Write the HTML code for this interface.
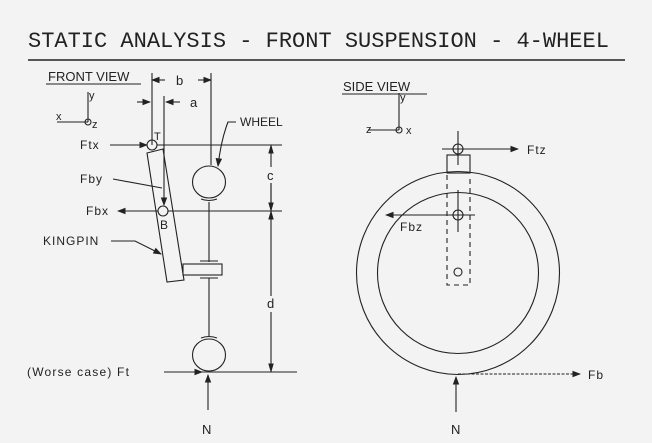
<!DOCTYPE html>
<html><head><meta charset="utf-8"><style>
html,body{margin:0;padding:0;background:#f3f3f3}
svg{display:block}
text{font-family:"Liberation Sans",sans-serif;fill:#222}
</style></head><body>
<svg width="652" height="443" viewBox="0 0 652 443" stroke="#222" fill="none" stroke-width="1.1">
<defs><marker id="ah" markerWidth="8" markerHeight="6" refX="7" refY="3" orient="auto"><path d="M0,0 L8,3 L0,6 Z" fill="#222" stroke="none"/></marker></defs>
<rect width="652" height="443" fill="#f3f3f3" stroke="none"/>
<text x="28" y="47" style="font-family:'Liberation Mono',monospace;font-size:22px" stroke="none">STATIC ANALYSIS - FRONT SUSPENSION - 4-WHEEL</text>
<line x1="28" y1="60" x2="625" y2="60" stroke-width="1.6"/>

<g>
<text x="48" y="81" font-size="13" stroke="none">FRONT VIEW</text>
<line x1="46" y1="84" x2="141" y2="84"/>
<line x1="88" y1="92" x2="88" y2="122"/><line x1="57" y1="122" x2="88" y2="122"/>
<circle cx="88" cy="122" r="3"/>
<text x="89" y="99" font-size="11" stroke="none">y</text><text x="56" y="120" font-size="11" stroke="none">x</text><text x="92" y="128" font-size="11" stroke="none">z</text>
<line x1="152" y1="73" x2="152" y2="145"/><line x1="211" y1="73" x2="211" y2="165"/>
<line x1="165" y1="80" x2="152" y2="80" marker-end="url(#ah)"/><line x1="198" y1="80" x2="211" y2="80" marker-end="url(#ah)"/>
<text x="176" y="85" font-size="13" stroke="none">b</text>
<line x1="137" y1="102" x2="150" y2="102" marker-end="url(#ah)"/><line x1="180" y1="102" x2="166" y2="102" marker-end="url(#ah)"/>
<text x="190" y="107" font-size="13" stroke="none">a</text>
<line x1="164" y1="96" x2="164" y2="205" marker-end="url(#ah)"/>
<text x="80" y="149" font-size="12" stroke="none" letter-spacing="1">Ftx</text>
<line x1="110" y1="145" x2="147" y2="145" marker-end="url(#ah)"/>
<line x1="157" y1="145" x2="282" y2="145"/>
<circle cx="152" cy="145" r="5"/><text x="154" y="140" font-size="11" stroke="none">T</text>
<polygon points="147,153 163,149 184,280 167,282"/>
<text x="80" y="183" font-size="12" stroke="none" letter-spacing="1">Fby</text>
<line x1="113" y1="179" x2="162" y2="188"/>
<circle cx="163" cy="211" r="5"/><text x="160" y="229" font-size="12" stroke="none">B</text>
<text x="86" y="215" font-size="12" stroke="none" letter-spacing="1">Fbx</text>
<line x1="158" y1="211" x2="118" y2="211" marker-end="url(#ah)"/><line x1="168" y1="211" x2="282" y2="211"/>
<text x="43" y="245" font-size="12" stroke="none" letter-spacing="1">KINGPIN</text>
<path d="M111,241 L135,241 L161,254" marker-end="url(#ah)"/>
<ellipse cx="209" cy="182" rx="16.5" ry="16"/>
<path d="M201,199 Q209,202 217,199"/>
<line x1="209" y1="202" x2="209" y2="262"/>
<rect x="183" y="264" width="39" height="11"/>
<line x1="200" y1="261" x2="218" y2="261"/><line x1="200" y1="278" x2="218" y2="278"/>
<line x1="209" y1="278" x2="209" y2="336"/>
<path d="M201,338 Q209,335 217,338"/>
<ellipse cx="209" cy="355" rx="16.5" ry="16"/>
<text x="240" y="126" font-size="12" stroke="none">WHEEL</text>
<path d="M236,122 L228,122 Q221,140 218,166" marker-end="url(#ah)"/>
<line x1="271" y1="145" x2="271" y2="167"/><line x1="271" y1="183" x2="271" y2="296"/><line x1="271" y1="312" x2="271" y2="372"/>
<path d="M271,146 l-2,7 l4,0 z M271,210 l-2,-7 l4,0 z M271,212 l-2,7 l4,0 z M271,371 l-2,-7 l4,0 z" fill="#222"/>
<line x1="271" y1="183" x2="271" y2="210"/>
<text x="267" y="180" font-size="13" stroke="none">c</text>
<text x="267" y="308" font-size="13" stroke="none">d</text>
<line x1="164" y1="372" x2="297" y2="372"/>
<text x="27" y="376" font-size="12" stroke="none" letter-spacing="1.2">(Worse case) Ft</text>
<line x1="165" y1="372" x2="202" y2="372" marker-end="url(#ah)"/>
<line x1="208" y1="410" x2="208" y2="375" marker-end="url(#ah)"/>
<text x="202" y="434" font-size="13" stroke="none">N</text>
</g>

<g>
<text x="343" y="91" font-size="13" stroke="none">SIDE VIEW</text>
<line x1="342" y1="94" x2="427" y2="94"/>
<line x1="399" y1="93" x2="399" y2="130"/><line x1="368" y1="130" x2="399" y2="130"/>
<circle cx="399" cy="130" r="3"/>
<text x="400" y="101" font-size="11" stroke="none">y</text><text x="366" y="133" font-size="11" stroke="none">z</text><text x="406" y="134" font-size="11" stroke="none">x</text>
<line x1="458" y1="131" x2="458" y2="165"/>
<circle cx="458" cy="149" r="5"/>
<line x1="442" y1="149" x2="518" y2="149" marker-end="url(#ah)"/>
<text x="527" y="154" font-size="12" stroke="none" letter-spacing="1">Ftz</text>
<rect x="447" y="155" width="23" height="18"/>
<circle cx="458" cy="273" r="101.5"/>
<circle cx="458" cy="273" r="80.5"/>
<path d="M447,175 V285 H470 V175" stroke-dasharray="5,4"/>
<circle cx="458" cy="272" r="4"/>
<line x1="458" y1="190" x2="458" y2="232"/>
<circle cx="458" cy="215" r="5"/>
<line x1="475" y1="215" x2="386" y2="215" marker-end="url(#ah)"/>
<text x="400" y="231" font-size="12" stroke="none" letter-spacing="1">Fbz</text>
<line x1="458" y1="374" x2="580" y2="374" stroke-dasharray="3,1.5" marker-end="url(#ah)"/>
<text x="588" y="379" font-size="12" stroke="none" letter-spacing="1">Fb</text>
<line x1="456" y1="412" x2="456" y2="377" marker-end="url(#ah)"/>
<text x="451" y="434" font-size="13" stroke="none">N</text>
</g>
</svg>
</body></html>
